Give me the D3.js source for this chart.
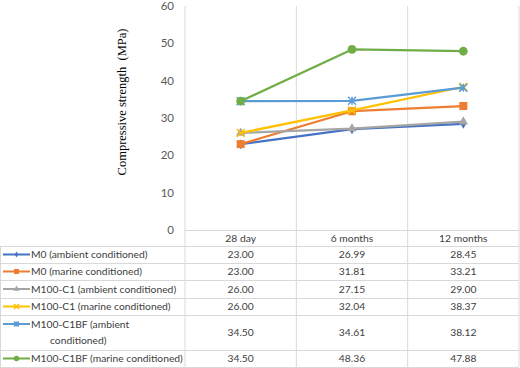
<!DOCTYPE html>
<html>
<head>
<meta charset="utf-8">
<script src="https://cdn.jsdelivr.net/npm/d3@7"></script>
<style>
  body { margin: 0; background: #fff; }
  svg { display: block; }
</style>
</head>
<body>
<div class="canvas"></div>
<script>
const categories = ['28 day', '6 months', '12 months'];
const seriesNames = [
  'M0 (ambient conditioned)',
  'M0 (marine conditioned)',
  'M100-C1 (ambient conditioned)',
  'M100-C1 (marine conditioned)',
  'M100-C1BF (ambient conditioned)',
  'M100-C1BF (marine conditioned)'
];
const m0Ambient = [23.0, 26.99, 28.45];
const m0Marine = [23.0, 31.81, 33.21];
const c1Ambient = [26.0, 27.15, 29.0];
const c1Marine = [26.0, 32.04, 38.37];
const c1bfAmbient = [34.5, 34.61, 38.12];
const c1bfMarine = [34.5, 48.36, 47.88];
const yTicks = [0, 10, 20, 30, 40, 50, 60];

const colors = ['#4472C4', '#ED7D31', '#A5A5A5', '#FFC000', '#5B9BD5', '#70AD47'];
const markers = ['diamond', 'square', 'triangle', 'x', 'star', 'circle'];

const series = [m0Ambient, m0Marine, c1Ambient, c1Marine, c1bfAmbient, c1bfMarine].map((values, i) => ({
  name: seriesNames[i],
  values,
  color: colors[i],
  marker: markers[i]
}));

const width = 520, height = 368;
const dims = { left: 185, right: 519, top: 6, bottom: 230 };
// table row boundaries (header + one per series, 5th row wraps)
const rowEdges = [230, 246, 263, 280, 298, 315, 350, 367];

const svg = d3.select('.canvas').append('svg')
  .attr('width', width)
  .attr('height', height);

const x = d3.scaleBand()
  .domain(categories)
  .range([dims.left, dims.right])
  .padding(0);

const y = d3.scaleLinear()
  .domain([0, 60])
  .range([dims.bottom, dims.top]);

const font = 'Lato, "Open Sans", sans-serif';
const tableSize = 10.3;
const textColor = '#404040';
const gridColor = '#d9d9d9';

// vertical column lines through plot and table
svg.append('g')
  .selectAll('line')
  .data(categories)
  .join('line')
  .attr('x1', d => x(d) + x.bandwidth())
  .attr('x2', d => x(d) + x.bandwidth())
  .attr('y1', dims.top)
  .attr('y2', rowEdges[rowEdges.length - 1])
  .attr('stroke', gridColor)
  .attr('stroke-width', 1);

// y axis line
svg.append('line')
  .attr('x1', dims.left).attr('x2', dims.left)
  .attr('y1', dims.top).attr('y2', rowEdges[rowEdges.length - 1])
  .attr('stroke', gridColor);

// table horizontal lines
svg.append('g')
  .selectAll('line')
  .data(rowEdges)
  .join('line')
  .attr('x1', (d, i) => i === 0 ? dims.left : 0)
  .attr('x2', dims.right)
  .attr('y1', d => d + 0.5)
  .attr('y2', d => d + 0.5)
  .attr('stroke', gridColor);

svg.append('line')
  .attr('x1', 0.5).attr('x2', 0.5)
  .attr('y1', rowEdges[1]).attr('y2', rowEdges[rowEdges.length - 1])
  .attr('stroke', gridColor);

// y tick labels
svg.append('g')
  .selectAll('text')
  .data(yTicks)
  .join('text')
  .attr('x', 174)
  .attr('y', d => y(d))
  .attr('dy', '0.35em')
  .attr('text-anchor', 'end')
  .attr('font-family', font)
  .attr('font-size', 11.5)
  .attr('fill', '#595959')
  .text(d => d);

// y axis title
svg.append('text')
  .attr('transform', `translate(126, 102) rotate(-90)`)
  .attr('text-anchor', 'middle')
  .attr('font-family', '"Liberation Serif", "Times New Roman", serif')
  .attr('font-size', 12.5)
  .attr('fill', '#000')
  .style('white-space', 'pre')
  .text('Compressive strength  (MPa)');

const cx = d => x(d) + x.bandwidth() / 2;

function drawMarker(g, type, color, s) {
  if (type === 'circle') {
    g.append('circle').attr('r', s * 0.55).attr('fill', color);
  } else if (type === 'square') {
    g.append('rect').attr('x', -s / 2).attr('y', -s / 2).attr('width', s).attr('height', s).attr('fill', color);
  } else if (type === 'diamond') {
    g.append('path').attr('d', d3.symbol(d3.symbolDiamond, s * s * 0.45)()).attr('fill', color);
  } else if (type === 'triangle') {
    g.append('path').attr('d', d3.symbol(d3.symbolTriangle, s * s * 0.6)()).attr('fill', color);
  } else {
    const h = s / 2;
    const p = `M${-h},${-h}L${h},${h}M${-h},${h}L${h},${-h}` + (type === 'star' ? `M0,${-h}L0,${h}` : '');
    g.append('path').attr('d', p).attr('stroke', color).attr('stroke-width', 1.5).attr('fill', 'none');
  }
}

const line = d3.line()
  .x((d, i) => cx(categories[i]))
  .y(d => y(d));

const plot = svg.append('g');

series.forEach(s => {
  plot.append('path')
    .attr('d', line(s.values))
    .attr('fill', 'none')
    .attr('stroke', s.color)
    .attr('stroke-width', 2.25)
    .attr('stroke-linejoin', 'round');
  s.values.forEach((v, i) => {
    const g = plot.append('g').attr('transform', `translate(${cx(categories[i])}, ${y(v)})`);
    drawMarker(g, s.marker, s.color, 8);
  });
});

// table header
svg.append('g')
  .selectAll('text')
  .data(categories)
  .join('text')
  .attr('x', d => cx(d))
  .attr('y', (rowEdges[0] + rowEdges[1]) / 2)
  .attr('dy', '0.35em')
  .attr('text-anchor', 'middle')
  .attr('font-family', font)
  .attr('font-size', tableSize)
  .attr('fill', textColor)
  .text(d => d);

// table rows
series.forEach((s, r) => {
  const top = rowEdges[r + 1], bot = rowEdges[r + 2];
  const mid = (top + bot) / 2;
  const wrapped = s.name === 'M100-C1BF (ambient conditioned)';
  const g = svg.append('g');

  const keyY = wrapped ? top + 9 : mid;
  g.append('line')
    .attr('x1', 3).attr('x2', 30)
    .attr('y1', keyY).attr('y2', keyY)
    .attr('stroke', s.color).attr('stroke-width', 2);
  const mk = g.append('g').attr('transform', `translate(16.5, ${keyY})`);
  drawMarker(mk, s.marker, s.color, 5);

  const label = g.append('text')
    .attr('font-family', font)
    .attr('font-size', tableSize)
    .attr('fill', textColor);
  if (wrapped) {
    label.append('tspan').attr('x', 31).attr('y', top + 9).attr('dy', '0.35em').text('M100-C1BF (ambient');
    label.append('tspan').attr('x', 50).attr('y', top + 25).attr('dy', '0.35em').text('conditioned)');
  } else {
    label.attr('x', 31).attr('y', mid).attr('dy', '0.35em').text(s.name);
  }

  g.selectAll('text.val')
    .data(s.values)
    .join('text')
    .attr('class', 'val')
    .attr('x', (d, i) => cx(categories[i]))
    .attr('y', mid)
    .attr('dy', '0.35em')
    .attr('text-anchor', 'middle')
    .attr('font-family', font)
    .attr('font-size', tableSize)
    .attr('fill', textColor)
    .text(d => d.toFixed(2));
});
</script>
</body>
</html>
